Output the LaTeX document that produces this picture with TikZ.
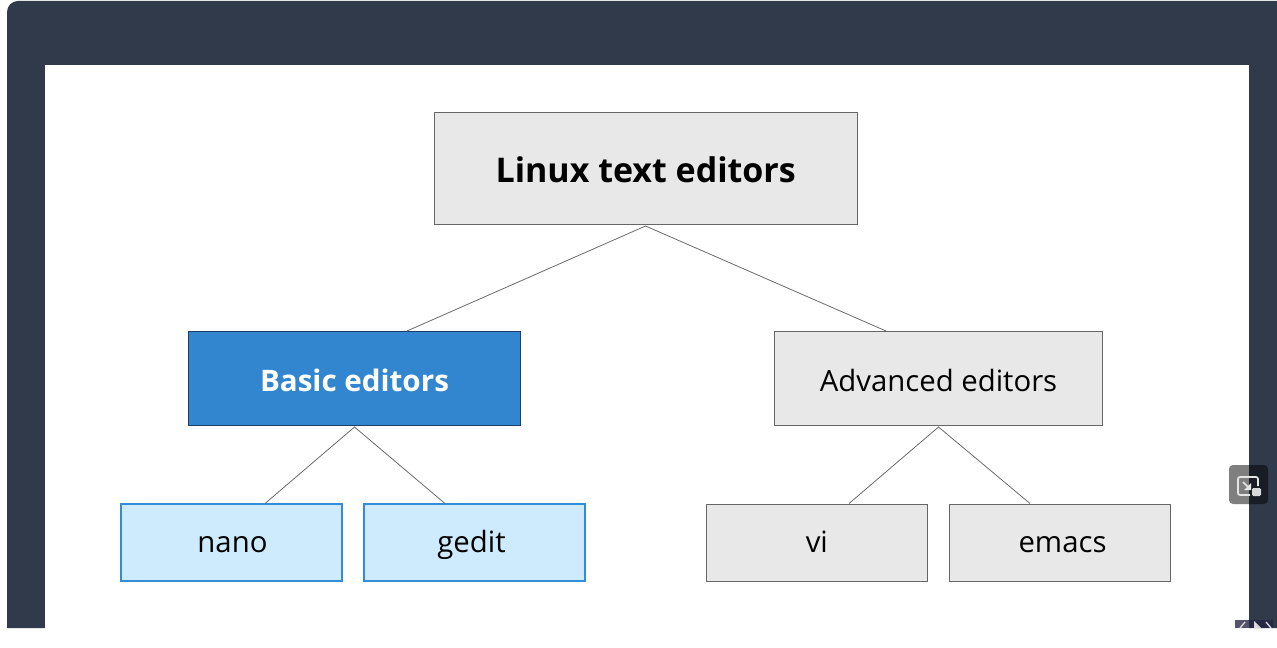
\documentclass[tikz,border=0pt]{standalone}
\usepackage{fontspec}
\setmainfont{Open Sans}
\usepackage{xcolor}
\usetikzlibrary{positioning,calc}
\definecolor{dfframe}{RGB}{49,58,75}
\definecolor{dfgray}{RGB}{232,232,232}
\definecolor{dfblue}{RGB}{50,133,207}
\definecolor{dfnavy}{RGB}{28,62,105}
\definecolor{dflight}{RGB}{206,235,254}
\definecolor{dfedge}{RGB}{50,140,215}
\definecolor{dfctrl}{RGB}{37,37,69}
\tikzstyle{graybox} = [draw=black!60,line width=0.7pt,fill=dfgray,text=black,inner sep=0pt,text depth=0pt]
\tikzstyle{link} = [draw=black!58,line width=0.6pt]
\tikzstyle{bluebox} = [draw=dfedge,line width=1.1pt,fill=dflight,text=black,inner sep=0pt,text depth=0pt,text height=15.3pt,minimum width=166pt,minimum height=58pt,font=\fontsize{22}{26}\selectfont]
\tikzstyle{leafbox} = [graybox,text height=15.3pt,minimum width=165.5pt,minimum height=57.5pt,font=\fontsize{22}{26}\selectfont]
\begin{document}
\begin{tikzpicture}[x=0.75pt,y=-0.75pt]
\useasboundingbox (0,0) rectangle (1277,648);
\fill[white] (0,0) rectangle (1277,648);

% Frame
\fill[dfframe] (7,12) arc[start angle=180,end angle=90,radius=8.25pt] -- (1277,1) -- (1277,628) -- (7,628) -- cycle;
\fill[white] (45,65.5) rectangle (1248.5,628.5);

% Top box
\node[graybox,text height=22.5pt,minimum width=317pt,minimum height=84pt,font=\fontsize{25.5}{30}\selectfont\bfseries] (root) at (645.7,168) {Linux text editors};

% Middle boxes
\node[graybox,draw=dfnavy,line width=0.9pt,fill=dfblue,text=white,text height=18.75pt,minimum width=249pt,minimum height=71pt,font=\fontsize{22.2}{26}\selectfont\bfseries] (basic) at (354.5,378.5) {Basic editors};
\node[graybox,text height=18.75pt,minimum width=246.5pt,minimum height=71pt,font=\fontsize{22}{26}\selectfont] (advanced) at (938.5,378.5) {Advanced editors};

% Bottom boxes
\node[bluebox] (nano) at (231.5,542.5) {\hspace*{1.5pt}nano};
\node[bluebox] (gedit) at (474.5,542.5) {\hspace*{-4.5pt}gedit};
\node[leafbox] (vi) at (816.8,542.7) {vi};
\node[leafbox] (emacs) at (1060,542.7) {\hspace*{3.8pt}emacs};

% Connector ends
\coordinate (rootout) at (645.5,226);
\coordinate (basicin) at (407,331);
\coordinate (advancedin) at (886,331);
\coordinate (basicout) at (354.5,427);
\coordinate (advancedout) at (938.5,427);
\coordinate (nanoin) at (265,503.5);
\coordinate (geditin) at (445,503.5);
\coordinate (viin) at (849,503.5);
\coordinate (emacsin) at (1030,503.5);

% Connectors
\draw[link] (basicin) -- (rootout) -- (advancedin);
\draw[link] (nanoin) -- (basicout) -- (geditin);
\draw[link] (viin) -- (advancedout) -- (emacsin);

% Overlay button
\fill[black,opacity=0.5,rounded corners=3pt] (1229,465) rectangle (1268,504);
\draw[white!90!black,line width=1.3pt,rounded corners=1.5pt] (1250,495) -- (1238,495) -- (1238,477) -- (1258,477) -- (1258,486);
\draw[white!90!black,line width=1.3pt] (1243,482) -- (1249,488);
\fill[white!90!black] (1251,490) -- (1251,483) -- (1244,490) -- cycle;
\fill[white!85!black,rounded corners=1pt] (1252,488) rectangle (1261,496);

% Player controls
\fill[dfctrl,opacity=0.78] (1235,620) rectangle (1273,628);
\draw[white!85!black,line width=1pt] (1245,622) -- (1240,628);
\fill[white!85!black] (1254,621) -- (1261,628) -- (1254,628) -- cycle;
\draw[white!85!black,line width=1pt] (1266,622) -- (1271,628);
\end{tikzpicture}
\end{document}
